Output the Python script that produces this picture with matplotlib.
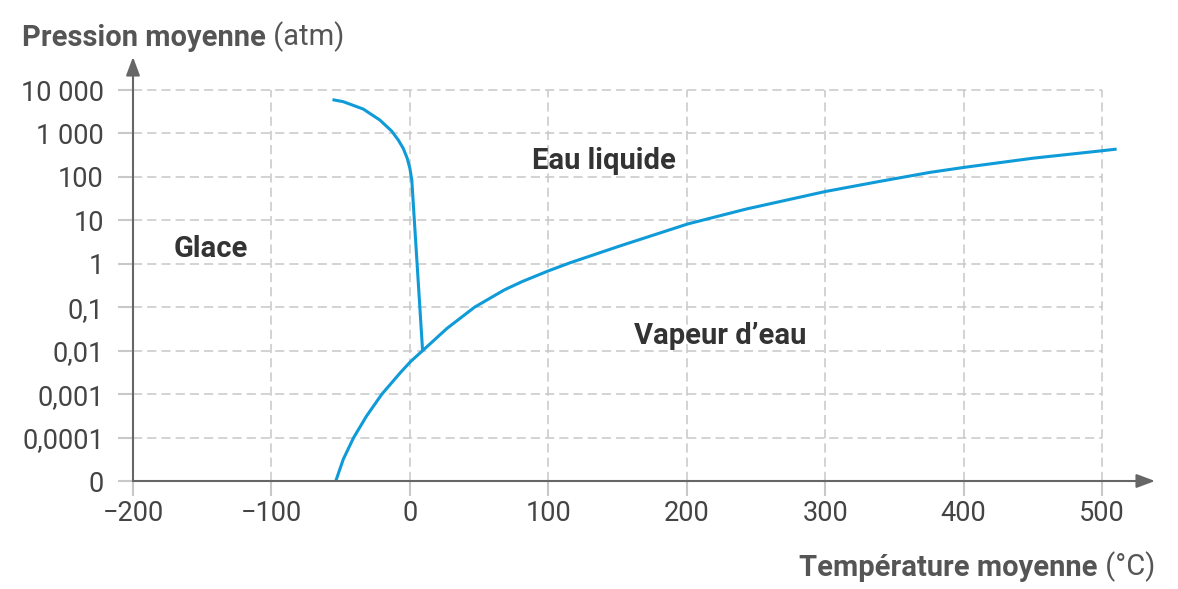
import matplotlib.pyplot as plt
from matplotlib.ticker import NullLocator

plt.rcParams['font.family'] = ['Roboto', 'DejaVu Sans']

# axes ticks
temp_ticks = [-200, -100, 0, 100, 200, 300, 400, 500]
temp_labels = ['\u2212200', '\u2212100', '0', '100', '200', '300', '400', '500']
press_ticks = [1e-5, 1e-4, 1e-3, 1e-2, 1e-1, 1, 10, 100, 1000, 10000]
press_labels = ['0', '0,0001', '0,001', '0,01', '0,1', '1', '10', '100', '1 000', '10 000']

# courbe de vaporisation / sublimation
vap_temp = [-53.5, -48.1, -40.6, -31.2, -20.2, -6.7, 0.5, 9.2, 26.9, 46.7, 68.3, 81.1,
            99.7, 115.6, 151.7, 201, 243, 300, 339.6, 375.7, 400, 450.4, 500, 510.6]
vap_press = [1e-5, 3.16e-5, 1e-4, 3.16e-4, 1e-3, 3.16e-3, 5.6e-3, 0.01, 0.0327, 0.1, 0.251, 0.389,
             0.68, 1.05, 2.57, 8.3, 18.2, 46, 79, 127, 165, 270, 400, 437]

# courbe de fusion
fus_temp = [-55.9, -48.2, -33.7, -21.7, -13.2, -8.4, -4.8, -1.9, 0, 1.4, 9.2]
fus_press = [6000, 5400, 3650, 2040, 1140, 710, 455, 268, 158, 85, 0.01]

W, H = 1178, 589
fig = plt.figure(figsize=(W / 100, H / 100), dpi=100)
ax = fig.add_axes([133 / W, (H - 481) / H, (1155 - 133) / W, (481 - 57) / H])
ax.set_yscale('log')
ax.set_xlim(-200, 538.3)
ax.set_ylim(1e-5, 10 ** 4.76)

grid_color = '#c8c8c8'
ax.vlines(temp_ticks[1:], 1e-5, 1e4, color=grid_color, lw=1.1,
          linestyles=(0, (6, 3.3)), zorder=1)
ax.hlines(press_ticks[1:], -200, 500, color=grid_color, lw=1.1,
          linestyles=(0, (6, 3.3)), zorder=1)

ax.plot(vap_temp, vap_press, color='#0e9bd7', lw=2.2, zorder=3, solid_capstyle='butt')
ax.plot(fus_temp, fus_press, color='#0e9bd7', lw=2.2, zorder=3, solid_capstyle='butt')

ax.set_xticks(temp_ticks, temp_labels)
ax.set_yticks(press_ticks, press_labels)
ax.yaxis.set_minor_locator(NullLocator())
ax.tick_params(axis='both', direction='out', length=11, width=1.5, color=grid_color,
               labelsize=19.5, labelcolor='#444444')
ax.tick_params(axis='y', pad=10)
ax.tick_params(axis='x', pad=3)

for s in ax.spines.values():
    s.set_visible(False)

arrow = dict(arrowstyle='-|>,head_length=0.8,head_width=0.3', color='#666666',
             lw=1.5, shrinkA=0, shrinkB=0, mutation_scale=14)
ax.annotate('', xy=(1, 0), xytext=(0, 0), xycoords='axes fraction', arrowprops=arrow)
ax.annotate('', xy=(0, 1), xytext=(0, 0), xycoords='axes fraction', arrowprops=arrow)

# zones
lab = dict(fontsize=21, fontweight='bold', color='#333333', ha='center', va='baseline')
ax.text(-144.1, 1.41, 'Glace', **lab)
ax.text(140.5, 150, 'Eau liquide', **lab)
ax.text(224, 0.01426, 'Vapeur d\u2019eau', **lab)

# titres des axes
t1 = fig.text(22 / W, 1 - 46 / H, 'Pression moyenne', fontsize=21, fontweight='bold',
              color='#555555', va='baseline')
fig.add_artist(plt.Annotation(' (atm)', xy=(1, 0), xycoords=t1, fontsize=21,
                              color='#555555', va='bottom', ha='left'))

t2 = fig.text(1155 / W, 1 - 575 / H, ' (\u00b0C)', fontsize=21, color='#555555',
              va='baseline', ha='right')
fig.add_artist(plt.Annotation('Température moyenne', xy=(0, 0), xycoords=t2, fontsize=21,
                              fontweight='bold', color='#555555', va='bottom', ha='right'))

fig.savefig('out.png', dpi=100)
